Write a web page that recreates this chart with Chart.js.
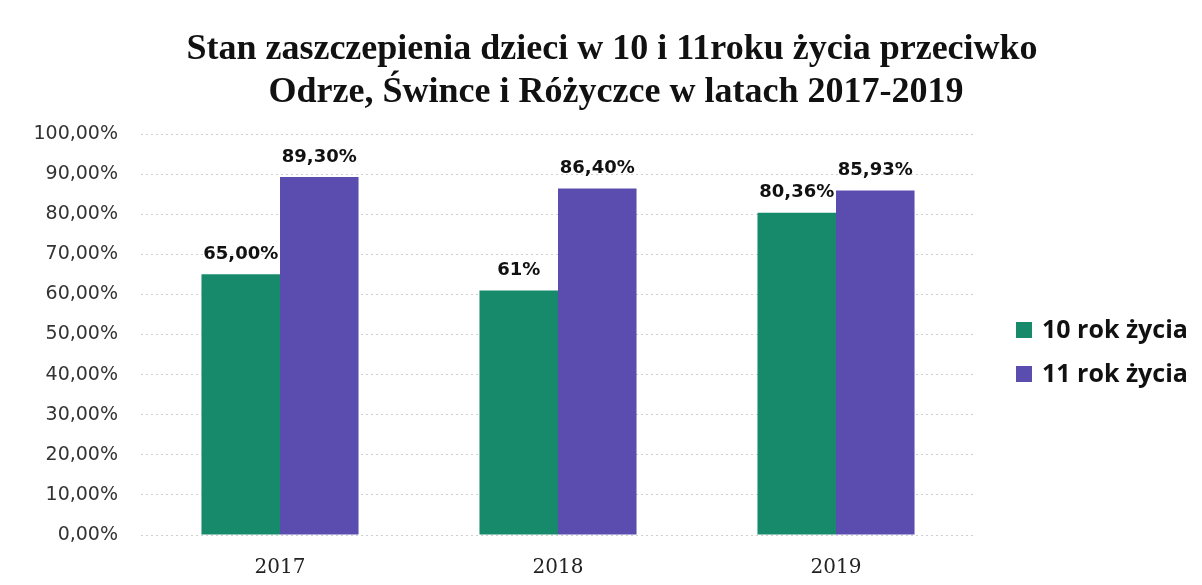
<!DOCTYPE html>
<html>
<head>
<meta charset="utf-8">
<script src="https://cdn.jsdelivr.net/npm/chart.js@4"></script>
<style>
    html, body { margin: 0; padding: 0; background: #fff; }
    #wrap { width: 1202px; height: 585px; }
</style>
</head>
<body>
<div id="wrap"><canvas id="vaccChart"></canvas></div>
<script>
    "use strict";

    // Data
    const years = ['2017', '2018', '2019'];
    const age10 = [0.65, 0.61, 0.8036];
    const age11 = [0.893, 0.864, 0.8593];
    const age10Labels = ['65,00%', '61%', '80,36%'];
    const age11Labels = ['89,30%', '86,40%', '85,93%'];
    const yTickLabels = ['0,00%', '10,00%', '20,00%', '30,00%', '40,00%', '50,00%',
                         '60,00%', '70,00%', '80,00%', '90,00%', '100,00%'];
    const titleLines = ['Stan zaszczepienia dzieci w 10 i 11roku życia przeciwko',
                        'Odrze, Śwince i Różyczce w latach 2017-2019'];

    const valueLabels = [age10Labels, age11Labels];

    // Draws the value text above every bar
    const barLabels = {
        id: 'barLabels',
        afterDatasetsDraw(chart) {
            const ctx = chart.ctx;
            ctx.save();
            ctx.font = 'bold 18px "DejaVu Sans"';
            ctx.fillStyle = '#111';
            ctx.textAlign = 'center';
            ctx.textBaseline = 'bottom';
            chart.data.datasets.forEach(function(ds, i) {
                chart.getDatasetMeta(i).data.forEach(function(bar, j) {
                    ctx.fillText(valueLabels[i][j], bar.x, bar.y - 11);
                });
            });
            ctx.restore();
        }
    };

    // Title and legend drawn by hand so they sit where the original has them
    const headAndLegend = {
        id: 'headAndLegend',
        afterDraw(chart) {
            const ctx = chart.ctx;
            ctx.save();

            // title, centred a bit right of the canvas middle like the original
            ctx.font = 'bold 36px "Liberation Serif"';
            ctx.fillStyle = '#111';
            ctx.textAlign = 'center';
            ctx.textBaseline = 'middle';
            ctx.fillText(titleLines[0], 612, 50);
            ctx.fillText(titleLines[1], 616, 93);

            // legend
            const x = chart.chartArea.right + 41;
            let y = 330;
            ctx.font = 'bold 25px "Open Sans"';
            ctx.textAlign = 'left';
            chart.data.datasets.forEach(function(ds) {
                ctx.fillStyle = ds.backgroundColor;
                ctx.fillRect(x, y - 8, 16, 16);
                ctx.fillStyle = '#111';
                ctx.fillText(ds.label, x + 26, y + 1);
                y += 44;
            });
            ctx.restore();
        }
    };

    const ctx = document.getElementById('vaccChart').getContext('2d');
    new Chart(ctx, {
        type: 'bar',
        data: {
            labels: years,
            datasets: [
                {
                    label: '10 rok życia',
                    data: age10,
                    backgroundColor: '#178a6c',
                    categoryPercentage: 0.565,
                    barPercentage: 1.0
                },
                {
                    label: '11 rok życia',
                    data: age11,
                    backgroundColor: '#5b4db0',
                    categoryPercentage: 0.565,
                    barPercentage: 1.0
                }
            ]
        },
        options: {
            responsive: true,
            maintainAspectRatio: false,
            animation: false,
            layout: {
                padding: { left: 23, right: 227, top: 134, bottom: 0 }
            },
            plugins: {
                title: { display: false },
                legend: { display: false },
                tooltip: { enabled: false }
            },
            scales: {
                x: {
                    grid: { display: false, drawTicks: false },
                    border: { display: false },
                    ticks: {
                        font: { family: '"DejaVu Serif"', size: 20 },
                        color: '#222',
                        padding: 21
                    },
                    afterFit: function(scale) { scale.height = 50; }
                },
                y: {
                    min: 0,
                    max: 1,
                    ticks: {
                        stepSize: 0.1,
                        font: { family: '"DejaVu Sans"', size: 19 },
                        color: '#333',
                        padding: 23,
                        callback: function(value, index) {
                            return yTickLabels[index];
                        }
                    },
                    grid: {
                        color: '#cfcfcf',
                        drawTicks: false
                    },
                    border: { display: false, dash: [2, 3] },
                    afterFit: function(scale) { scale.width = 118; }
                }
            }
        },
        plugins: [barLabels, headAndLegend]
    });
</script>
</body>
</html>
